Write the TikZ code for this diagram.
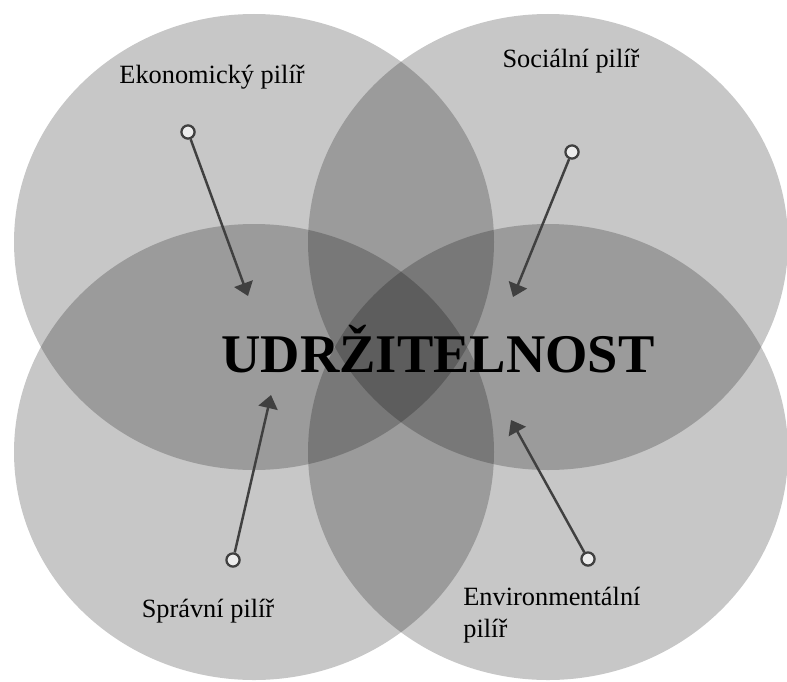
\documentclass[tikz,border=0pt]{standalone}
\usepackage{fontspec}
\setmainfont{Liberation Serif}
\usetikzlibrary{arrows.meta}
\tikzset{
pillar/.style={fill=black,fill opacity=0.22,draw=none},
ring/.style={circle,draw=black!75,fill=white!85!gray,line width=1.3pt,inner sep=0pt,minimum size=7.5pt},
pointer/.style={draw=black!75,line width=1.4pt,-{Triangle[width=11pt,length=7.5pt]}},
lab/.style={font=\fontsize{15pt}{18pt}\selectfont,inner sep=0pt}
}
\begin{document}
\begin{tikzpicture}[x=0.02cm,y=0.02cm]
\useasboundingbox (0,0) rectangle (787,681);
\fill[white] (0,0) rectangle (787,681);
\fill[pillar] (254,439) ellipse [x radius=240,y radius=228];
\fill[pillar] (548,439) ellipse [x radius=240,y radius=228];
\fill[pillar] (254,229) ellipse [x radius=240,y radius=228];
\fill[pillar] (548,229) ellipse [x radius=240,y radius=228];
\node[font=\bfseries\fontsize{31pt}{36pt}\selectfont,inner sep=0pt,anchor=base] (udr) at (438,309) {UDRŽITELNOST};
\node[lab,anchor=base] (eko) at (212,598) {Ekonomický pilíř};
\node[lab,anchor=base] (soc) at (571,614) {Sociální pilíř};
\node[lab,anchor=base] (spr) at (208,64) {Správní pilíř};
\node[lab,anchor=west,align=left] (env) at (463,66) {Environmentální\\pilíř};
\node[ring] (ekoring) at (188,549) {};
\node[ring] (socring) at (572,529) {};
\node[ring] (sprring) at (233,121) {};
\node[ring] (envring) at (588,122) {};
\coordinate (ekotip) at (248,385);
\coordinate (soctip) at (513,384);
\coordinate (sprtip) at (271,286);
\coordinate (envtip) at (511,261);
\draw[pointer] (ekoring)--(ekotip);
\draw[pointer] (socring)--(soctip);
\draw[pointer] (sprring)--(sprtip);
\draw[pointer] (envring)--(envtip);
\end{tikzpicture}
\end{document}
